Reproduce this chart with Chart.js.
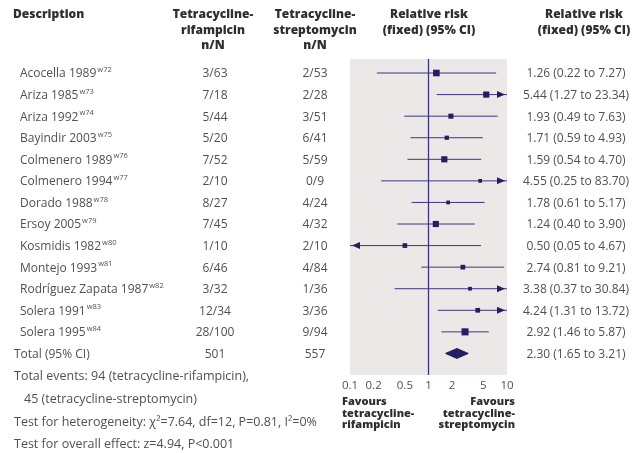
<!DOCTYPE html>
<html>
<head>
<meta charset="utf-8">
<script src="https://cdn.jsdelivr.net/npm/chart.js@4.4.1/dist/chart.umd.min.js"></script>
<style>
  html, body { margin: 0; padding: 0; background: #fff; }
  #wrap { position: relative; width: 636px; height: 453px; }
</style>
</head>
<body>
<div id="wrap"><canvas id="forestCanvas"></canvas></div>
<script>
// Trials: tetracycline-rifampicin vs tetracycline-streptomycin, relative risk (fixed)
const studies = ['Acocella 1989', 'Ariza 1985', 'Ariza 1992', 'Bayindir 2003', 'Colmenero 1989',
    'Colmenero 1994', 'Dorado 1988', 'Ersoy 2005', 'Kosmidis 1982', 'Montejo 1993',
    'Rodríguez Zapata 1987', 'Solera 1991', 'Solera 1995'];
const refs = ['w72', 'w73', 'w74', 'w75', 'w76', 'w77', 'w78', 'w79', 'w80', 'w81', 'w82', 'w83', 'w84'];
const rifampicin = ['3/63', '7/18', '5/44', '5/20', '7/52', '2/10', '8/27', '7/45', '1/10', '6/46', '3/32', '12/34', '28/100'];
const streptomycin = ['2/53', '2/28', '3/51', '6/41', '5/59', '0/9', '4/24', '4/32', '2/10', '4/84', '1/36', '3/36', '9/94'];
const rr = [1.26, 5.44, 1.93, 1.71, 1.59, 4.55, 1.78, 1.24, 0.50, 2.74, 3.38, 4.24, 2.92];
const ciLow = [0.22, 1.27, 0.49, 0.59, 0.54, 0.25, 0.61, 0.40, 0.05, 0.81, 0.37, 1.31, 1.46];
const ciHigh = [7.27, 23.34, 7.63, 4.93, 4.70, 83.70, 5.17, 3.90, 4.67, 9.21, 30.84, 13.72, 5.87];
const weights = [22, 19, 13, 9, 19, 7, 7, 19, 11, 11, 7, 11, 25];

const totalLabel = 'Total (95% CI)';
const totalN = ['501', '557'];
const totalRR = [2.30, 1.65, 3.21];

const tickValues = [0.1, 0.2, 0.5, 1, 2, 5, 10];
const xMin = 0.1, xMax = 10;
const yMin = -0.65, yMax = 14;

const NAVY = '#241d62';
const LINE = '#3b3684';
const BODY = '#505050';
const HEAD = '#2f2f2f';
const FONT = '"Open Sans", sans-serif';

const fmt = v => v.toFixed(2);

function buildDatasets() {
    const sets = [];
    // point estimates
    sets.push({
        data: rr.map((v, i) => ({ x: v, y: i })),
        pointStyle: 'rect',
        pointRadius: weights.map(w => 1.0 * Math.sqrt(w)),
        backgroundColor: NAVY,
        borderColor: NAVY,
        borderWidth: 0,
        showLine: false
    });
    // pooled diamond
    const ty = studies.length;
    sets.push({
        data: [
            { x: totalRR[1], y: ty }, { x: totalRR[0], y: ty - 0.23 },
            { x: totalRR[2], y: ty }, { x: totalRR[0], y: ty + 0.23 },
            { x: totalRR[1], y: ty }
        ],
        showLine: true,
        fill: 'shape',
        backgroundColor: NAVY,
        borderColor: NAVY,
        borderWidth: 1,
        pointRadius: 0,
        tension: 0
    });
    // confidence intervals, clipped to the axis range
    rr.forEach((v, i) => {
        sets.push({
            data: [{ x: Math.max(ciLow[i], xMin), y: i }, { x: Math.min(ciHigh[i], xMax), y: i }],
            showLine: true,
            borderColor: LINE,
            borderWidth: 1,
            pointRadius: 0
        });
    });
    // line of no effect
    sets.push({
        data: [{ x: 1, y: yMin }, { x: 1, y: yMax }],
        showLine: true,
        borderColor: LINE,
        borderWidth: 1.3,
        pointRadius: 0
    });
    return sets;
}

const forestPlugin = {
    id: 'forest',
    beforeDatasetsDraw(chart) {
        const { ctx, chartArea: a } = chart;
        ctx.save();
        ctx.fillStyle = '#ebe8e7';
        ctx.fillRect(a.left, a.top, a.right - a.left, a.bottom - a.top);
        ctx.restore();
    },
    afterDatasetsDraw(chart) {
        const { ctx } = chart;
        const xs = chart.scales.x, ys = chart.scales.y;
        ctx.save();
        ctx.fillStyle = NAVY;
        // arrows where the interval runs off the scale
        rr.forEach((v, i) => {
            const y = ys.getPixelForValue(i);
            if (ciHigh[i] > xMax) {
                const tip = xs.getPixelForValue(xMax) - 2;
                ctx.beginPath();
                ctx.moveTo(tip, y);
                ctx.lineTo(tip - 8, y - 3.5);
                ctx.lineTo(tip - 8, y + 3.5);
                ctx.closePath();
                ctx.fill();
            }
            if (ciLow[i] < xMin) {
                const tip = xs.getPixelForValue(xMin) + 2;
                ctx.beginPath();
                ctx.moveTo(tip, y);
                ctx.lineTo(tip + 8, y - 3.5);
                ctx.lineTo(tip + 8, y + 3.5);
                ctx.closePath();
                ctx.fill();
            }
        });
        ctx.restore();
    },
    afterDraw(chart) {
        const { ctx } = chart;
        const xs = chart.scales.x, ys = chart.scales.y;
        ctx.save();
        ctx.textBaseline = 'middle';

        // column headings
        ctx.fillStyle = HEAD;
        ctx.font = '800 12px ' + FONT;
        ctx.textAlign = 'left';
        ctx.fillText('Description', 13, 15);
        ctx.textAlign = 'center';
        [['Tetracycline-', 'rifampicin', 'n/N', 213],
         ['Tetracycline-', 'streptomycin', 'n/N', 315]].forEach(h => {
            ctx.fillText(h[0], h[3], 15);
            ctx.fillText(h[1], h[3], 31);
            ctx.fillText(h[2], h[3], 46);
        });
        [429, 584].forEach(cx => {
            ctx.fillText('Relative risk', cx, 15);
            ctx.fillText('(fixed) (95% CI)', cx, 31);
        });

        // study rows
        ctx.fillStyle = BODY;
        studies.forEach((name, i) => {
            const y = ys.getPixelForValue(i) + 1;
            ctx.font = '12px ' + FONT;
            ctx.textAlign = 'left';
            ctx.fillText(name, 20, y);
            const w = ctx.measureText(name).width;
            ctx.font = '7.5px ' + FONT;
            ctx.fillText(refs[i], 20 + w + 1, y - 4);
            ctx.font = '12px ' + FONT;
            ctx.textAlign = 'center';
            ctx.fillText(rifampicin[i], 215, y);
            ctx.fillText(streptomycin[i], 315, y);
            ctx.fillText(fmt(rr[i]) + ' (' + fmt(ciLow[i]) + ' to ' + fmt(ciHigh[i]) + ')', 576, y);
        });

        // pooled row
        const ty = ys.getPixelForValue(studies.length) + 1;
        ctx.textAlign = 'left';
        ctx.fillText(totalLabel, 14, ty);
        ctx.textAlign = 'center';
        ctx.fillText(totalN[0], 215, ty);
        ctx.fillText(totalN[1], 315, ty);
        ctx.fillText(fmt(totalRR[0]) + ' (' + fmt(totalRR[1]) + ' to ' + fmt(totalRR[2]) + ')', 576, ty);

        // x tick labels
        ctx.font = '11.5px ' + FONT;
        const tickY = chart.chartArea.bottom + 11;
        tickValues.forEach(v => {
            ctx.fillText(String(v), xs.getPixelForValue(v), tickY);
        });

        // footer notes
        ctx.font = '12.5px ' + FONT;
        ctx.textAlign = 'left';
        ctx.fillText('Total events: 94 (tetracycline-rifampicin),', 14, 376);
        ctx.fillText('45 (tetracycline-streptomycin)', 24, 399);
        ctx.fillText('Test for heterogeneity: χ²=7.64, df=12, P=0.81, I²=0%', 14, 422);
        ctx.fillText('Test for overall effect: z=4.94, P<0.001', 14, 444);

        // direction labels
        ctx.fillStyle = HEAD;
        ctx.font = '800 11px ' + FONT;
        ['Favours', 'tetracycline-', 'rifampicin'].forEach((t, k) => ctx.fillText(t, 342, 402 + k * 11.5));
        ctx.textAlign = 'right';
        ['Favours', 'tetracycline-', 'streptomycin'].forEach((t, k) => ctx.fillText(t, 515, 402 + k * 11.5));

        ctx.restore();
    }
};

const chart = new Chart(document.getElementById('forestCanvas').getContext('2d'), {
    type: 'scatter',
    data: { datasets: buildDatasets() },
    options: {
        responsive: true,
        maintainAspectRatio: false,
        animation: false,
        layout: { padding: { left: 350, right: 129, top: 59, bottom: 78 } },
        scales: {
            x: { type: 'logarithmic', min: xMin, max: xMax, display: false },
            y: { type: 'linear', min: yMin, max: yMax, reverse: true, display: false }
        },
        plugins: { legend: { display: false }, tooltip: { enabled: false } }
    },
    plugins: [forestPlugin]
});
</script>
</body>
</html>
